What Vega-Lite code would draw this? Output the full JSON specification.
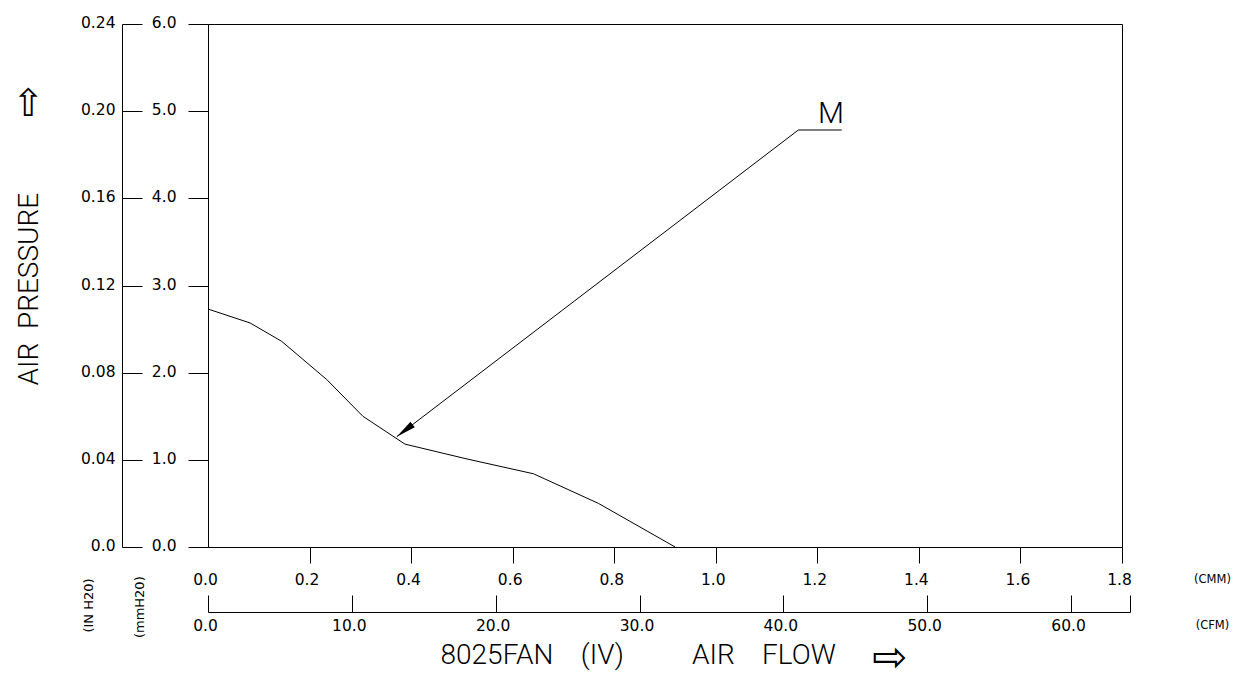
{
  "$schema": "https://vega.github.io/schema/vega-lite/v6.json",
  "width": 914,
  "height": 523,
  "autosize": "none",
  "padding": {"left": 208, "top": 24, "right": 120, "bottom": 132},
  "background": "white",
  "config": {
    "view": {"stroke": "black", "strokeWidth": 1},
    "axis": {
      "grid": false,
      "domainColor": "black",
      "domainWidth": 1,
      "tickColor": "black",
      "tickWidth": 1,
      "labelColor": "black",
      "labelFont": "DejaVu Sans",
      "labelFontSize": 15.5,
      "labelFlush": false,
      "labelOverlap": false,
      "labelBound": false,
      "titleColor": "black",
      "titleFont": "DejaVu Sans",
      "titleFontWeight": "normal"
    }
  },
  "datasets": {
    "curve": [
      {"cmm": 0, "mmh2o": 2.73},
      {"cmm": 0.083, "mmh2o": 2.57},
      {"cmm": 0.145, "mmh2o": 2.36},
      {"cmm": 0.234, "mmh2o": 1.92},
      {"cmm": 0.305, "mmh2o": 1.5},
      {"cmm": 0.388, "mmh2o": 1.18},
      {"cmm": 0.51, "mmh2o": 1.01},
      {"cmm": 0.641, "mmh2o": 0.84},
      {"cmm": 0.769, "mmh2o": 0.5},
      {"cmm": 0.92, "mmh2o": 0}
    ],
    "leader": [
      {"step": 1, "cmm": 0.3716, "mmh2o": 1.265},
      {"step": 2, "cmm": 1.1626, "mmh2o": 4.784},
      {"step": 3, "cmm": 1.248, "mmh2o": 4.784}
    ],
    "head": [{"cmm": 0.3873, "mmh2o": 1.335}],
    "tag": [{"cmm": 1.227, "mmh2o": 4.864, "label": "M"}],
    "cfm": [{"cfm": 0}, {"cfm": 64.1}],
    "inh2o": [{"inh2o": 0}, {"inh2o": 0.24}],
    "blank": [{"v": 0}, {"v": 1}]
  },
  "layer": [
    {
      "encoding": {
        "x": {
          "field": "cmm",
          "type": "quantitative",
          "scale": {"domain": [0, 1.8]},
          "axis": {
            "orient": "bottom",
            "values": [0, 0.2, 0.4, 0.6, 0.8, 1.0, 1.2, 1.4, 1.6, 1.8],
            "format": ".1f",
            "tickSize": 16,
            "labelPadding": 16,
            "labelBaseline": "middle",
            "labelOffset": -3,
            "tickOpacity": {"condition": {"test": "datum.value == 0", "value": 0}, "value": 1},
            "title": "(CMM)",
            "titleX": 1004,
            "titleY": 32,
            "titleAngle": 0,
            "titleAlign": "center",
            "titleBaseline": "middle",
            "titleFontSize": 11.5
          }
        },
        "y": {
          "field": "mmh2o",
          "type": "quantitative",
          "scale": {"domain": [0, 6]},
          "axis": {
            "orient": "left",
            "values": [0, 1, 2, 3, 4, 5, 6],
            "format": ".1f",
            "tickSize": 20,
            "labelPadding": 12,
            "labelAlign": "right",
            "labelBaseline": "middle",
            "labelOffset": -1.5,
            "title": "(mmH20)",
            "titleX": -69,
            "titleY": 582.7,
            "titleAngle": 270,
            "titleAlign": "center",
            "titleBaseline": "middle",
            "titleFontSize": 13
          }
        }
      },
      "layer": [
        {
          "data": {"name": "curve"},
          "mark": {"type": "line", "color": "black", "strokeWidth": 1}
        },
        {
          "data": {"name": "leader"},
          "mark": {"type": "line", "color": "black", "strokeWidth": 1},
          "encoding": {"order": {"field": "step", "type": "quantitative"}}
        },
        {
          "data": {"name": "head"},
          "mark": {
            "type": "point",
            "shape": "M0,-1L0.35,1L-0.35,1Z",
            "filled": true,
            "color": "black",
            "opacity": 1,
            "size": 400,
            "angle": 232.6
          }
        },
        {
          "data": {"name": "tag"},
          "mark": {
            "type": "text",
            "font": "Roboto",
            "fontWeight": 300,
            "fontSize": 30,
            "color": "black",
            "align": "center",
            "baseline": "alphabetic"
          },
          "encoding": {"text": {"field": "label", "type": "nominal"}}
        }
      ]
    },
    {
      "data": {"name": "cfm"},
      "mark": {"type": "point", "opacity": 0},
      "encoding": {
        "x": {
          "field": "cfm",
          "type": "quantitative",
          "scale": {"domain": [0, 64.1], "range": [0, 922]},
          "axis": {
            "orient": "bottom",
            "offset": 65,
            "values": [0, 10, 20, 30, 40, 50, 60, 64.1],
            "labelExpr": "datum.value > 61 ? '' : format(datum.value, '.1f')",
            "tickSize": -17,
            "labelPadding": 30,
            "labelBaseline": "middle",
            "labelOffset": -3,
            "title": "(CFM)",
            "titleX": 1004,
            "titleY": 13,
            "titleAngle": 0,
            "titleAlign": "center",
            "titleBaseline": "middle",
            "titleFontSize": 11.5
          }
        }
      }
    },
    {
      "data": {"name": "inh2o"},
      "mark": {"type": "point", "opacity": 0},
      "encoding": {
        "y": {
          "field": "inh2o",
          "type": "quantitative",
          "scale": {"domain": [0, 0.24]},
          "axis": {
            "orient": "left",
            "offset": 86,
            "values": [0, 0.04, 0.08, 0.12, 0.16, 0.2, 0.24],
            "labelExpr": "datum.value == 0 ? '0.0' : format(datum.value, '.2f')",
            "tickSize": -20,
            "labelPadding": 27,
            "labelAlign": "right",
            "labelBaseline": "middle",
            "labelOffset": -1.5,
            "title": "(IN H20)",
            "titleX": -33.5,
            "titleY": 581,
            "titleAngle": 270,
            "titleAlign": "center",
            "titleBaseline": "middle",
            "titleFontSize": 13
          }
        }
      }
    },
    {
      "data": {"name": "blank"},
      "mark": {"type": "point", "opacity": 0},
      "encoding": {
        "y": {
          "field": "v",
          "type": "quantitative",
          "axis": {
            "orient": "left",
            "domain": false,
            "ticks": false,
            "labels": false,
            "title": "AIR\u00a0\u00a0PRESSURE",
            "titleX": -171,
            "titleY": 361,
            "titleAngle": 270,
            "titleAlign": "left",
            "titleBaseline": "alphabetic",
            "titleFont": "Roboto",
            "titleFontWeight": 300,
            "titleFontSize": 28
          }
        }
      }
    },
    {
      "data": {"name": "blank"},
      "mark": {"type": "point", "opacity": 0},
      "encoding": {
        "y": {
          "field": "v",
          "type": "quantitative",
          "axis": {
            "orient": "left",
            "domain": false,
            "ticks": false,
            "labels": false,
            "title": "⇧",
            "titleX": -180,
            "titleY": 80,
            "titleAngle": 0,
            "titleAlign": "center",
            "titleBaseline": "middle",
            "titleFont": "DejaVu Sans",
            "titleFontSize": 38
          }
        }
      }
    },
    {
      "data": {"name": "blank"},
      "mark": {"type": "point", "opacity": 0},
      "encoding": {
        "x": {
          "field": "v",
          "type": "quantitative",
          "axis": {
            "orient": "bottom",
            "domain": false,
            "ticks": false,
            "labels": false,
            "title": "8025FAN\u00a0\u00a0\u00a0\u00a0(IV)\u00a0\u00a0\u00a0\u00a0\u00a0\u00a0\u00a0\u00a0\u00a0\u00a0AIR\u00a0\u00a0\u00a0\u00a0FLOW",
            "titleX": 232,
            "titleY": 116,
            "titleAngle": 0,
            "titleAlign": "left",
            "titleBaseline": "alphabetic",
            "titleFont": "Roboto",
            "titleFontWeight": 300,
            "titleFontSize": 28
          }
        }
      }
    },
    {
      "data": {"name": "blank"},
      "mark": {"type": "point", "opacity": 0},
      "encoding": {
        "x": {
          "field": "v",
          "type": "quantitative",
          "axis": {
            "orient": "bottom",
            "domain": false,
            "ticks": false,
            "labels": false,
            "title": "⇨",
            "titleX": 681,
            "titleY": 110,
            "titleAngle": 0,
            "titleAlign": "center",
            "titleBaseline": "middle",
            "titleFont": "DejaVu Sans",
            "titleFontSize": 42
          }
        }
      }
    }
  ],
  "resolve": {"scale": {"x": "independent", "y": "independent"}}
}
